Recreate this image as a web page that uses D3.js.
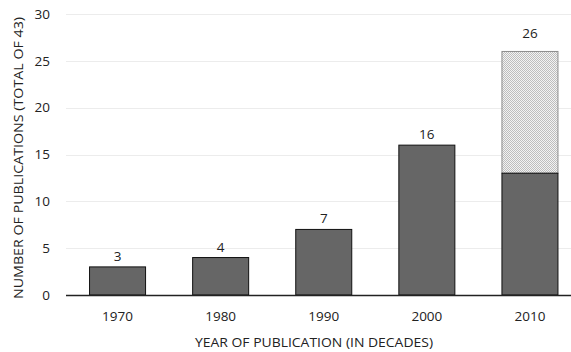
<!DOCTYPE html>
<html><head><meta charset="utf-8">
<script src="https://cdn.jsdelivr.net/npm/d3@7"></script>
<style>body{margin:0;background:#fff}svg{display:block}text{font-family:"Open Sans",sans-serif;fill:#222}</style>
</head><body><svg id="c" width="571" height="352"></svg>
<script>
const decades = ["1970","1980","1990","2000","2010"];
const baseValues = [3,4,7,16,13];
const extraValues = [0,0,0,0,13];
const totalLabels = [3,4,7,16,26];
const yTicks = [0,5,10,15,20,25,30];
const FONT = '"Open Sans",sans-serif';

const svg = d3.select("#c");
const x = d3.scaleBand().domain(decades).range([66,581.5]).paddingInner(0.447).paddingOuter(0.2235);
const y = d3.scaleLinear().domain([0,30]).range([295,14]);

const defs = svg.append("defs");
const pat = defs.append("pattern").attr("id","dots").attr("patternUnits","userSpaceOnUse").attr("width",2).attr("height",2);
pat.append("rect").attr("width",2).attr("height",2).attr("fill","#f2f2f2");
pat.append("rect").attr("width",1).attr("height",1).attr("fill","#bdbdbd");
pat.append("rect").attr("x",1).attr("y",1).attr("width",1).attr("height",1).attr("fill","#bdbdbd");

// grid
svg.append("g").selectAll("line").data(yTicks.filter(d=>d>0)).join("line")
  .attr("x1",66).attr("x2",571).attr("y1",d=>Math.round(y(d))+0.5).attr("y2",d=>Math.round(y(d))+0.5)
  .attr("stroke","#ececec").attr("stroke-width",1);

// y axis labels
const ya = svg.append("g").attr("transform","translate(50,0)").call(d3.axisLeft(y).tickValues(yTicks).tickSize(0).tickPadding(0));
ya.select(".domain").remove();
ya.selectAll("text").attr("font-size",13.5).attr("font-family",FONT).attr("fill","#222");

// bars
const data = decades.map((d,i)=>({d,base:baseValues[i],extra:extraValues[i],label:totalLabels[i]}));
svg.append("g").selectAll("rect").data(data.filter(d=>d.extra>0)).join("rect")
  .attr("x",d=>x(d.d)+0.5).attr("width",x.bandwidth()-1)
  .attr("y",d=>y(d.base+d.extra)).attr("height",d=>y(d.base)-y(d.base+d.extra))
  .attr("fill","url(#dots)").attr("stroke","#8c8c8c").attr("stroke-width",1);
svg.append("g").selectAll("rect").data(data).join("rect")
  .attr("x",d=>x(d.d)+0.5).attr("width",x.bandwidth()-1)
  .attr("y",d=>y(d.base)).attr("height",d=>y(0)-y(d.base))
  .attr("fill","#666666").attr("stroke","#111").attr("stroke-width",1);

// value labels
svg.append("g").selectAll("text").data(data).join("text")
  .attr("x",d=>x(d.d)+x.bandwidth()/2).attr("y",d=>y(d.base+d.extra)-(d.extra>0?13:6))
  .attr("text-anchor","middle").attr("font-size",13.5).attr("fill","#222").text(d=>d.label);

// x axis
const xa = svg.append("g").attr("transform","translate(0,295)").call(d3.axisBottom(x).tickSize(0).tickPadding(16));
xa.select(".domain").remove();
xa.selectAll("text").attr("font-size",13.5).attr("font-family",FONT).attr("fill","#222");
svg.append("line").attr("x1",66).attr("x2",571).attr("y1",295.5).attr("y2",295.5).attr("stroke","#222").attr("stroke-width",1.5);

// titles
svg.append("text").attr("x",314).attr("y",347).attr("text-anchor","middle").attr("font-size",13)
  .attr("textLength",238).attr("lengthAdjust","spacingAndGlyphs").text("YEAR OF PUBLICATION (IN DECADES)");
svg.append("text").attr("transform","translate(23,158) rotate(-90)").attr("text-anchor","middle").attr("font-size",13)
  .attr("textLength",282).attr("lengthAdjust","spacingAndGlyphs").text("NUMBER OF PUBLICATIONS (TOTAL OF 43)");
</script></body></html>
